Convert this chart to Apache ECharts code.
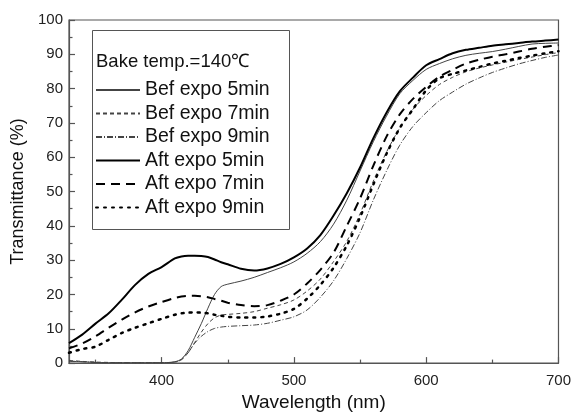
<!DOCTYPE html>
<html>
<head>
<meta charset="utf-8">
<script src="https://cdn.jsdelivr.net/npm/echarts@6/dist/echarts.min.js"></script>
<style>html,body{margin:0;padding:0;background:#fff;}#c{width:574px;height:417px;}</style>
</head>
<body>
<div id="c"></div>
<script>
var wavelengths = [330,340,350,360,370,380,390,400,410,415,420,425,430,435,440,445,450,460,470,480,490,500,510,520,530,540,550,560,570,580,590,600,610,620,630,640,650,660,670,680,690,700];
var befExpo5 = [0.5,0.4,0.2,0.1,0.1,0.1,0.1,0.1,0.4,1.2,3.6,7.5,11.5,16,20,22.3,23,23.9,25,26.4,27.8,29.5,32,35.4,40.5,47.5,56,64.5,72,78.5,82.4,85.6,87.3,88.7,89.7,90.3,90.8,91.5,92.3,93,93.2,93.3];
var befExpo7 = [0.8,0.5,0.3,0.2,0.1,0.1,0.1,0.1,0.3,1,3,6,9,11.5,13.2,14,14.2,14.5,15,16,17,18.4,21,24.5,29.6,35.5,43.5,53,61.5,68.5,74,78,81.2,83.3,84.9,86,86.9,87.7,88.5,89.2,89.9,90.5];
var befExpo9 = [0.6,0.4,0.2,0.1,0.1,0.1,0.1,0.1,0.3,1,3,5.8,7.8,9.2,10.1,10.5,10.7,10.9,11.1,11.6,12.5,13.5,15.5,19.2,24,30.5,38,47.5,56,63.5,69,73,76.5,79,81.3,83.1,84.7,86,87.2,88.2,89.1,89.8];
var aftExpo5 = [5.8,8.3,11.5,14.5,18.5,22.8,26,28,30.5,31.1,31.3,31.3,31.2,30.9,30.2,29.4,28.8,27.5,27,27.6,28.9,30.8,33.4,37.3,43,49.5,57,65.5,73,79.2,83.2,86.8,88.6,90.3,91.3,91.9,92.5,92.9,93.3,93.7,94,94.3];
var aftExpo7 = [4.3,5.7,7.8,10.3,12.7,14.8,16.5,17.8,19,19.4,19.6,19.6,19.5,19.2,18.7,18.2,17.6,16.9,16.6,16.9,18.2,20,23.2,27.2,32.2,40,48,57.5,66,72.5,77,80.5,83.5,85.5,87.3,88.4,89.3,90,90.8,91.6,92.2,92.7];
var aftExpo9 = [3,4.1,4.8,6.8,8.8,10.3,11.6,12.9,14.1,14.5,14.7,14.8,14.7,14.5,14.1,13.8,13.5,13.3,13.3,13.6,14.4,15.8,18.8,22.8,27.8,34.3,42.5,52,61,68.5,74,79.5,83,84.3,85.3,86.3,87.3,88.1,88.9,89.6,90.3,90.9];
var seriesNames = ['Bef expo 5min','Bef expo 7min','Bef expo 9min','Aft expo 5min','Aft expo 7min','Aft expo 9min'];
var xMajorTicks = [400,500,600,700];
var xMinorTicks = [350,450,550,650];
var legendTitle = 'Bake temp.=140\u2103';
var xName = 'Wavelength (nm)';
var yName = 'Transmittance (%)';

function pairs(ys){ return wavelengths.map(function(x,i){ return [x, ys[i]]; }); }

var styles = [
  {width:1, type:'solid', color:'#444'},
  {width:1, type:[4,3], color:'#444'},
  {width:1, type:[6,2,1,2], color:'#444'},
  {width:2, type:'solid', color:'#000'},
  {width:2, type:[9,6], color:'#000'},
  {width:2.5, type:[2,6], color:'#000', cap:'round'}
];
var allData = [befExpo5, befExpo7, befExpo9, aftExpo5, aftExpo7, aftExpo9];
var FONT = 'Liberation Sans';

var chart = echarts.init(document.getElementById('c'), null, {renderer:'canvas'});
chart.setOption({
  animation:false,
  backgroundColor:'#fff',
  grid:{left:69, right:14, top:20, bottom:53, show:true, borderColor:'#555', borderWidth:1.2, containLabel:false},
  legend:{
    orient:'vertical', left:90, top:75, itemWidth:44, itemHeight:12, itemGap:3.5,
    data: seriesNames,
    itemStyle:{opacity:0},
    textStyle:{fontFamily:FONT, fontSize:19.5, color:'#111', lineHeight:20},
    selectedMode:false
  },
  graphic:[
    {type:'rect', shape:{x:92.5, y:30.5, width:197, height:199}, style:{fill:null, stroke:'#555', lineWidth:1}},
    {type:'text', x:96, y:62, style:{text:legendTitle, fontFamily:FONT, fontSize:18.5, fill:'#111', textVerticalAlign:'middle'}}
  ],
  xAxis:[{
    type:'value', min:330, max:700,
    name:xName, nameLocation:'middle', nameGap:29,
    nameTextStyle:{fontFamily:FONT, fontSize:19, color:'#111'},
    axisLine:{show:true, lineStyle:{color:'#555', width:1.2}},
    axisTick:{show:true, inside:true, length:6, customValues:xMajorTicks, lineStyle:{color:'#555', width:1.2}},
    axisLabel:{customValues:xMajorTicks, fontFamily:FONT, fontSize:15, color:'#222', margin:10},
    splitLine:{show:false}
  },{
    type:'value', min:330, max:700, position:'bottom',
    axisLine:{show:false},
    axisTick:{show:true, inside:true, length:3.5, customValues:xMinorTicks, lineStyle:{color:'#555', width:1.2}},
    axisLabel:{show:false},
    splitLine:{show:false}
  }],
  yAxis:{
    type:'value', min:0, max:100, interval:10,
    name:yName, nameLocation:'middle', nameGap:42, nameRotate:90,
    nameTextStyle:{fontFamily:FONT, fontSize:18, color:'#111'},
    axisLine:{show:true, lineStyle:{color:'#555', width:1.2}},
    axisTick:{show:true, inside:true, length:6, lineStyle:{color:'#555', width:1.2}},
    minorTick:{show:true, splitNumber:2, length:3.5, lineStyle:{color:'#555', width:1.2}},
    axisLabel:{fontFamily:FONT, fontSize:15, color:'#222', margin:6},
    splitLine:{show:false}
  },
  series: seriesNames.map(function(n,i){
    var s = styles[i];
    return {
      name:n, type:'line', data:pairs(allData[i]), xAxisIndex:0,
      showSymbol:false, symbol:'none', smooth:0.3,
      lineStyle:{color:s.color, width:s.width, type:s.type, cap:s.cap||'butt'},
      itemStyle:{color:s.color}
    };
  })
});
</script>
</body>
</html>
